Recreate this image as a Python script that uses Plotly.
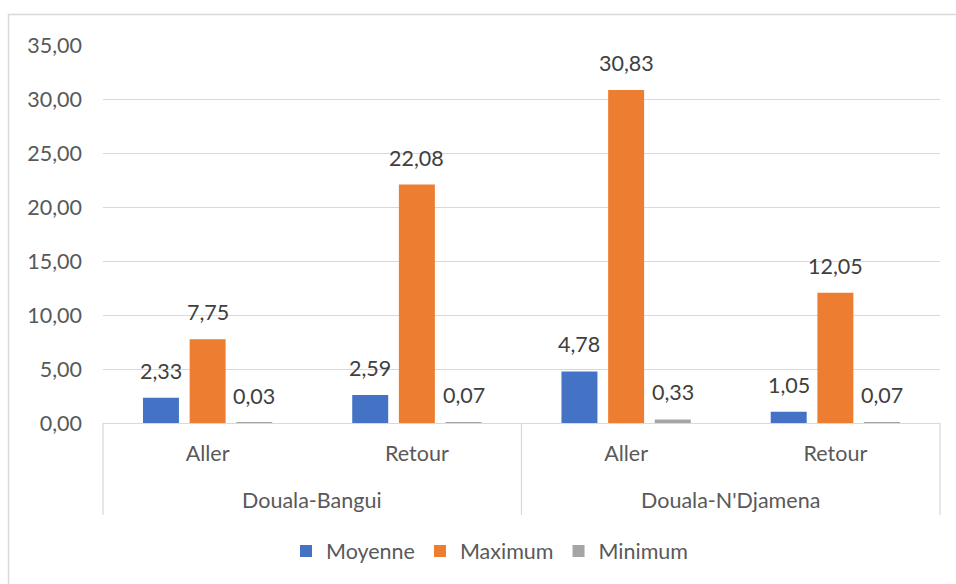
import plotly.graph_objects as go

groups = ["Douala-Bangui", "Douala-N'Djamena"]
subcats = ["Aller", "Retour", "Aller", "Retour"]
series_names = ["Moyenne", "Maximum", "Minimum"]
moyenne = [2.33, 2.59, 4.78, 1.05]
maximum = [7.75, 22.08, 30.83, 12.05]
minimum = [0.03, 0.07, 0.33, 0.07]
y_ticks = [0, 5, 10, 15, 20, 25, 30, 35]

colors = ["#4472C4", "#ED7D31", "#A5A5A5"]
series = [moyenne, maximum, minimum]

W, H = 956, 584
ml, mr, mt, mb = 103, 16, 45, 161
pw, ph = W - ml - mr, H - mt - mb

bargap = 0.331
bargroupgap = 0.229
n = len(subcats)
xs = list(range(n))
FS = 21.5

fig = go.Figure()
for name, vals, col in zip(series_names, series, colors):
    fig.add_trace(go.Bar(x=xs, y=vals, name=name, marker=dict(color=col, line=dict(width=0))))

slot = (1 - bargap) / len(series)
annotations = []
for k, vals in enumerate(series):
    off = (k - (len(series) - 1) / 2) * slot
    for i, v in enumerate(vals):
        annotations.append(dict(
            x=i + off, y=v, xref="x", yref="y",
            text=f"{v:.2f}".replace(".", ","), showarrow=False,
            yanchor="middle", yshift=27,
            font=dict(family="Lato", size=FS, color="#404040")))

def py(pix):
    return (H - mb - pix) / ph

def px(pix):
    return (pix - ml) / pw

per_group = n // len(groups)
for g, name in enumerate(groups):
    center = g * per_group + (per_group - 1) / 2
    annotations.append(dict(
        x=center, y=py(500), xref="x", yref="paper", text=name, showarrow=False,
        yanchor="middle", font=dict(family="Lato", size=FS, color="#595959")))

shapes = []
for g in range(len(groups) + 1):
    xp = g * per_group / n
    shapes.append(dict(type="line", xref="paper", yref="paper", x0=xp, x1=xp,
                       y0=0, y1=py(515), line=dict(color="#D9D9D9", width=1.3)))
shapes.append(dict(type="rect", xref="paper", yref="paper",
                   x0=px(8.5), x1=px(975), y0=py(600), y1=py(14.5),
                   line=dict(color="#D9D9D9", width=1.5), layer="below"))

fig.update_layout(
    width=W, height=H,
    margin=dict(l=ml, r=mr, t=mt, b=mb),
    paper_bgcolor="white", plot_bgcolor="white",
    barmode="group", bargap=bargap, bargroupgap=bargroupgap,
    separators=", ",
    font=dict(family="Lato", size=FS, color="#595959"),
    showlegend=True,
    legend=dict(orientation="h", x=px(490), xanchor="center", y=py(551), yanchor="middle",
                font=dict(family="Lato", size=FS, color="#595959"), itemwidth=30),
    annotations=annotations, shapes=shapes,
)
fig.update_xaxes(range=[-0.5, n - 0.5], tickvals=xs, ticktext=subcats,
                 showgrid=False, zeroline=False, showline=True, linecolor="#D9D9D9",
                 linewidth=1.3, ticks="", ticklabelstandoff=11,
                 tickfont=dict(family="Lato", size=FS, color="#595959"))
fig.update_yaxes(range=[0, 35], tickvals=y_ticks, tickformat=".2f",
                 showgrid=True, gridcolor="#D9D9D9", gridwidth=1.3, zeroline=False,
                 showline=False, ticks="", ticklabelstandoff=20,
                 tickfont=dict(family="Lato", size=FS, color="#595959"))

fig.write_html("out.html")
